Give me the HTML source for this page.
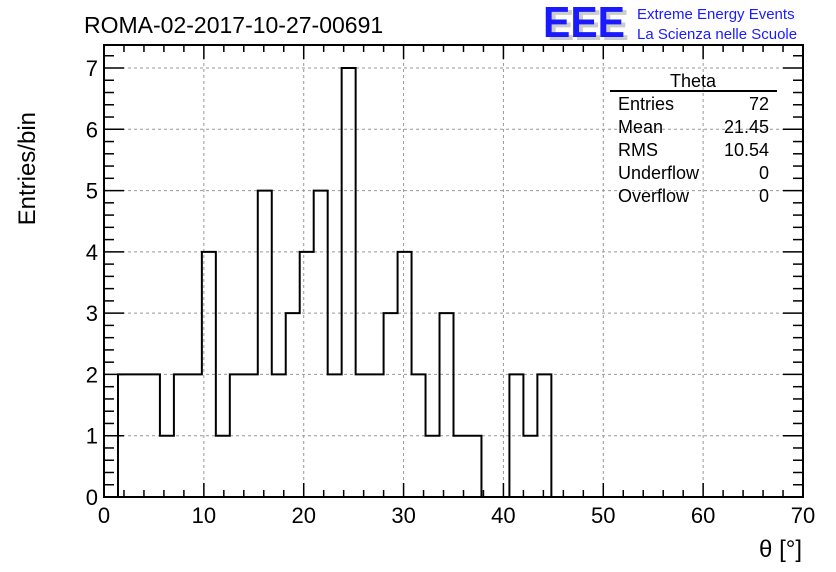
<!DOCTYPE html>
<html><head><meta charset="utf-8"><style>
body{margin:0;background:#fff;}
svg{display:block;font-family:"Liberation Sans",sans-serif;}
</style></head><body>
<svg id="c" width="836" height="572" viewBox="0 0 836 572">
<text x="84" y="33" font-size="23">ROMA-02-2017-10-27-00691</text>
<g>
<text x="547" y="40" font-size="44" fill="#ccc" font-weight="bold" textLength="82" lengthAdjust="spacingAndGlyphs">EEE</text>
<text x="543" y="37" font-size="44" fill="#1a1aff" font-weight="bold" textLength="82" lengthAdjust="spacingAndGlyphs">EEE</text>
<text x="637" y="19" font-size="15" fill="#1a1aff">Extreme Energy Events</text>
<text x="637" y="39" font-size="15" fill="#1a1aff">La Scienza nelle Scuole</text>
</g>
<g id="grid"></g>
<g id="hist"></g>
<rect x="104" y="45" width="699" height="452" fill="none" stroke="#000" stroke-width="2"/>
<g id="axes"></g>
<text x="35" y="112" font-size="24" transform="rotate(-90 35 112)" text-anchor="end">Entries/bin</text>
<text x="802" y="557" font-size="24" text-anchor="end">θ [°]</text>
<g font-size="18">
<text x="693" y="87" text-anchor="middle">Theta</text>
<line x1="610" y1="91" x2="777" y2="91" stroke="#000" stroke-width="2"/>
<text x="618" y="110">Entries</text><text x="769" y="110" text-anchor="end">72</text>
<text x="618" y="133">Mean</text><text x="769" y="133" text-anchor="end">21.45</text>
<text x="618" y="156">RMS</text><text x="769" y="156" text-anchor="end">10.54</text>
<text x="618" y="179">Underflow</text><text x="769" y="179" text-anchor="end">0</text>
<text x="618" y="202">Overflow</text><text x="769" y="202" text-anchor="end">0</text>
</g>
</svg>
<script>
const binStart = 1.4;
const binWidth = 1.4;
const counts = [2,2,2,1,2,2,4,1,2,2,5,2,3,4,5,2,7,2,2,3,4,2,1,3,1,1,0,0,2,1,2];
const xTicks = [0,10,20,30,40,50,60,70];
const yTicks = [0,1,2,3,4,5,6,7];
const NS="http://www.w3.org/2000/svg";
const X0=104,X1=803,Y0=497,Y7=68;
const sx=v=>X0+(v-0)/70*(X1-X0);
const sy=v=>Y0-(v/7)*(Y0-Y7);
function mk(tag,attrs,parent){const e=document.createElementNS(NS,tag);for(const k in attrs)e.setAttribute(k,attrs[k]);parent.appendChild(e);return e;}
const grid=document.getElementById('grid'),axes=document.getElementById('axes'),hist=document.getElementById('hist');
xTicks.forEach(t=>{
  const x=sx(t);
  if(t>0&&t<70){const l=mk('line',{x1:x,y1:45,x2:x,y2:497,stroke:'#999','stroke-dasharray':'3,3'},grid);
  
  }
  const tx=mk('text',{x:x,y:523,'font-size':22,'text-anchor':'middle'},axes);tx.textContent=t;
  
  
});
for(let v=0;v<=70;v+=2){const x=sx(v);const L=(v%10===0)?14:7;
  mk('line',{x1:x,y1:497,x2:x,y2:497-L,stroke:'#000','stroke-width':1.5},axes);
  mk('line',{x1:x,y1:45,x2:x,y2:45+L,stroke:'#000','stroke-width':1.5},axes);}
yTicks.forEach(t=>{
  const y=sy(t);
  if(t>0){const l=mk('line',{x1:104,y1:y,x2:803,y2:y,stroke:'#999','stroke-dasharray':'3,3'},grid);
  
  }
  const tx=mk('text',{x:98,y:y+8,'font-size':22,'text-anchor':'end'},axes);tx.textContent=t;
  
  
});
for(let i=0;i<=36;i++){const v=i*0.2;const y=sy(v);if(y<45)break;const L=(i%5===0)?20:10;
  mk('line',{x1:104,y1:y,x2:104+L,y2:y,stroke:'#000','stroke-width':1.5},axes);
  mk('line',{x1:803,y1:y,x2:803-L,y2:y,stroke:'#000','stroke-width':1.5},axes);}
let d='M'+sx(binStart)+','+sy(0);
counts.forEach((c,i)=>{const a=sx(binStart+i*binWidth),b=sx(binStart+(i+1)*binWidth);d+=' L'+a+','+sy(c)+' L'+b+','+sy(c);});
d+=' L'+sx(binStart+counts.length*binWidth)+','+sy(0);
const p=mk('path',{d:d,fill:'none',stroke:'#000','stroke-width':2},hist);


</script>
</body></html>
